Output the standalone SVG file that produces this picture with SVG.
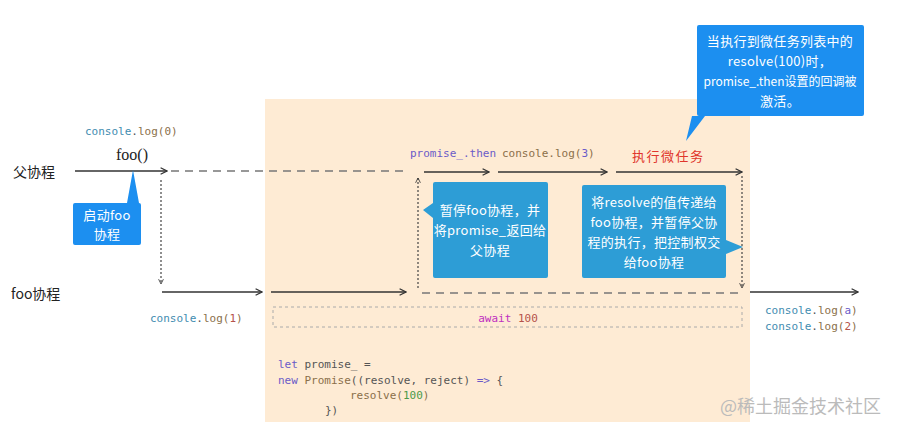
<svg xmlns="http://www.w3.org/2000/svg" width="899" height="432" viewBox="0 0 899 432">
<defs>
<style>
.code{font-family:"DejaVu Sans Mono","Liberation Mono",monospace;font-size:11px}
.c{fill:#3f8cb0}.l{fill:#8a6f4a}.n{fill:#b5524a}.k{fill:#6b5bc8}
.lbl{font-family:"Noto Sans CJK SC","Noto Sans",sans-serif;font-size:14px;fill:#222}
.ct{font-family:"Noto Sans CJK SC","Noto Sans",sans-serif;font-size:13px;fill:#fff;text-anchor:middle;letter-spacing:0.3px}
.ln{stroke:#333;stroke-width:1.6;fill:none}
.dash{stroke:#777;stroke-width:1.6;fill:none;stroke-dasharray:8 6}
.dot{stroke:#444;stroke-width:1.2;fill:none;stroke-dasharray:2 2}
</style>
<marker id="ah" viewBox="0 0 10 10" refX="9" refY="5" markerWidth="8" markerHeight="8" orient="auto" markerUnits="userSpaceOnUse">
<path d="M1,1 L9,5 L1,9" fill="none" stroke="#333" stroke-width="1.6"/>
</marker>
<marker id="ahs" viewBox="0 0 10 10" refX="9" refY="5" markerWidth="6" markerHeight="6" orient="auto" markerUnits="userSpaceOnUse">
<path d="M1,1 L9,5 L1,9" fill="none" stroke="#333" stroke-width="1.4"/>
</marker>
</defs>
<rect width="899" height="432" fill="#fff"/>
<rect id="bg" x="265" y="99" width="485" height="323" fill="#feebd4"/>

<g id="labels">
<text class="lbl" x="13" y="177">父协程</text>
<text class="lbl" x="11" y="299">foo协程</text>
<text x="116" y="160" font-family="Liberation Serif,serif" font-size="16" fill="#222">foo()</text>
<text class="code" x="85" y="135"><tspan class="c">console</tspan><tspan fill="#555">.</tspan><tspan class="l">log(</tspan><tspan class="l">0</tspan><tspan class="l">)</tspan></text>
<text class="code" x="150" y="322"><tspan class="c">console</tspan><tspan fill="#555">.</tspan><tspan class="l">log(</tspan><tspan class="n">1</tspan><tspan class="l">)</tspan></text>
<text class="code" x="410" y="157"><tspan class="k">promise_.then</tspan></text>
<text class="code" x="502" y="157"><tspan class="l">console.log(</tspan><tspan class="k">3</tspan><tspan class="l">)</tspan></text>
<text x="632" y="161" font-family="Noto Sans CJK SC,sans-serif" font-size="13" letter-spacing="1.5" fill="#e0352b">执行微任务</text>
<text class="code" x="765" y="314"><tspan class="c">console</tspan><tspan fill="#555">.</tspan><tspan class="l">log(</tspan><tspan class="k">a</tspan><tspan class="l">)</tspan></text>
<text class="code" x="765" y="330"><tspan class="c">console</tspan><tspan fill="#555">.</tspan><tspan class="l">log(</tspan><tspan class="n">2</tspan><tspan class="l">)</tspan></text>
</g>

<g id="await">
<rect x="273" y="307" width="469" height="20" fill="none" stroke="#aaa" stroke-width="1" stroke-dasharray="3 3"/>
<text class="code" x="508" y="322" text-anchor="middle"><tspan fill="#c030c0">await</tspan> <tspan class="n">100</tspan></text>
</g>

<g id="code">
<text class="code" x="278" y="368"><tspan class="k">let</tspan><tspan fill="#555"> promise_ =</tspan></text>
<text class="code" x="278" y="384"><tspan class="k">new</tspan><tspan fill="#8a6f4a"> Promise</tspan><tspan fill="#555">((resolve, reject) </tspan><tspan class="k">=&gt;</tspan><tspan fill="#555"> {</tspan></text>
<text class="code" x="350" y="399"><tspan class="l">resolve(</tspan><tspan fill="#4a9a4a">100</tspan><tspan class="l">)</tspan></text>
<text class="code" x="325" y="414" fill="#555">})</text>
</g>

<g id="connectors">
<line class="ln" x1="75" y1="171" x2="167" y2="171" marker-end="url(#ah)"/>
<line class="dash" x1="171" y1="171" x2="408" y2="171"/>
<line class="ln" x1="424" y1="172" x2="489" y2="172" marker-end="url(#ah)"/>
<line class="ln" x1="498" y1="172" x2="607" y2="172" marker-end="url(#ah)"/>
<line class="ln" x1="616" y1="172" x2="742" y2="172" marker-end="url(#ah)"/>
<line class="ln" x1="162" y1="292" x2="262" y2="292" marker-end="url(#ah)"/>
<line class="ln" x1="271" y1="292" x2="406" y2="292" marker-end="url(#ah)"/>
<line class="dash" x1="422" y1="293" x2="742" y2="293"/>
<line class="ln" x1="750" y1="292" x2="858" y2="292" marker-end="url(#ah)"/>
<line class="dot" x1="161" y1="180" x2="161" y2="284" marker-end="url(#ahs)"/>
<line class="dot" x1="418" y1="288" x2="418" y2="178" marker-end="url(#ahs)"/>
<line class="dot" x1="742" y1="176" x2="742" y2="288" marker-end="url(#ahs)"/>
</g>

<g id="callout-start">
<path d="M75,203 H127 L133,170 L139,203 Q141,203 141,205 V243 Q141,245 139,245 H75 Q73,245 73,243 V205 Q73,203 75,203 Z" fill="#1c8ff0"/>
<text class="ct" x="107" y="220">启动foo</text>
<text class="ct" x="107" y="239">协程</text>
</g>

<g id="callout-pause">
<path d="M435,182 H546 Q548,182 548,184 V276 Q548,278 546,278 H435 Q433,278 433,276 V218 L423,210 L433,203 V184 Q433,182 435,182 Z" fill="#2d9dd6"/>
<text class="ct" x="490" y="215">暂停foo协程，并</text>
<text class="ct" x="490" y="235">将promise_返回给</text>
<text class="ct" x="490" y="255">父协程</text>
</g>

<g id="callout-resolve">
<path d="M584,185 H724 Q726,185 726,187 V240 L743,247 L726,254 V276 Q726,278 724,278 H584 Q582,278 582,276 V187 Q582,185 584,185 Z" fill="#2d9dd6"/>
<text class="ct" x="654" y="207">将resolve的值传递给</text>
<text class="ct" x="654" y="227">foo协程，并暂停父协</text>
<text class="ct" x="654" y="247">程的执行，把控制权交</text>
<text class="ct" x="654" y="267">给foo协程</text>
</g>

<g id="callout-micro">
<path d="M699,25 H862 Q864,25 864,27 V114 Q864,116 862,116 H705 L686,141 L692,116 H699 Q697,116 697,114 V27 Q697,25 699,25 Z" fill="#1c8ff0"/>
<text class="ct" x="780" y="46">当执行到微任务列表中的</text>
<text class="ct" x="780" y="66">resolve(100)时，</text>
<text class="ct" x="780" y="86" style="font-size:12px;letter-spacing:0">promise_.then设置的回调被</text>
<text class="ct" x="780" y="106">激活。</text>
</g>

<text x="720" y="413" font-family="Noto Sans CJK SC,sans-serif" font-size="18" fill="#bbb">@稀土掘金技术社区</text>
</svg>
